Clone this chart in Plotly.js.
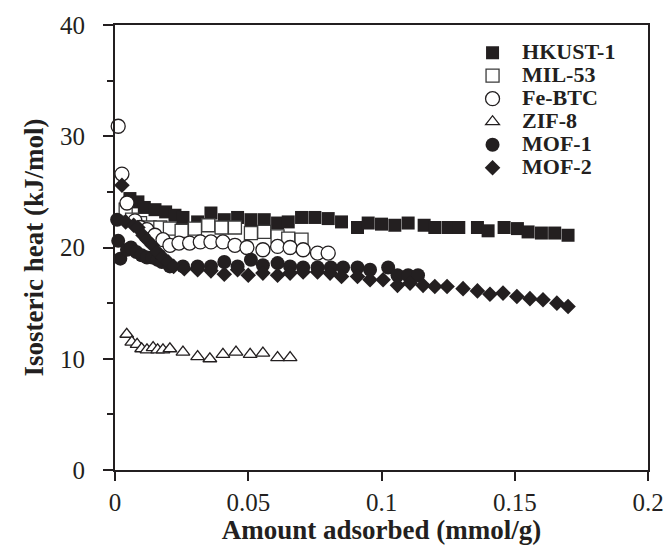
<!DOCTYPE html>
<html>
<head>
<meta charset="utf-8">
<script src="https://cdn.plot.ly/plotly-3.0.1.min.js"></script>
<style>html,body{margin:0;padding:0;background:#fff;}#chart{width:667px;height:545px;}</style>
</head>
<body>
<div id="chart"></div>
<script>
const seriesNames = ["HKUST-1", "MIL-53", "Fe-BTC", "ZIF-8", "MOF-1", "MOF-2"];

const hkustX = [0.0056,0.0086,0.011,0.015,0.019,0.0225,0.0255,0.031,0.036,0.041,0.046,0.051,0.056,0.061,0.065,0.070,0.075,0.080,0.085,0.091,0.095,0.100,0.105,0.110,0.116,0.120,0.125,0.129,0.136,0.140,0.146,0.151,0.155,0.160,0.165,0.170];
const hkustY = [24.4,24.1,23.6,23.4,23.2,22.9,22.7,22.3,23.1,22.5,22.7,22.5,22.5,22.2,22.3,22.7,22.7,22.6,22.3,21.8,22.2,22.1,22.0,22.2,22.0,21.8,21.8,21.8,21.8,21.5,21.8,21.7,21.4,21.3,21.3,21.1];

const milX = [0.004,0.0064,0.0094,0.013,0.017,0.0206,0.025,0.030,0.035,0.040,0.045,0.051,0.056,0.061,0.065,0.070];
const milY = [23.4,22.5,22.2,21.8,21.8,21.7,21.5,21.7,22.0,21.8,21.8,21.3,21.4,21.0,20.8,20.7];

const feX = [0.0012,0.0026,0.0045,0.0075,0.0094,0.012,0.015,0.018,0.0206,0.024,0.028,0.032,0.036,0.0405,0.045,0.0495,0.0555,0.061,0.0657,0.0706,0.076,0.080];
const feY = [30.9,26.6,24.0,22.4,21.8,21.6,21.1,20.7,20.2,20.4,20.4,20.5,20.5,20.5,20.2,20.0,19.8,20.1,20.0,19.8,19.5,19.5];

const zifX = [0.0044,0.0063,0.0083,0.010,0.012,0.0143,0.016,0.018,0.0206,0.0255,0.031,0.0356,0.0405,0.0454,0.0507,0.0555,0.061,0.0657];
const zifY = [12.2,11.5,11.3,10.9,10.8,11.0,10.8,10.8,10.9,10.6,10.2,10.0,10.4,10.6,10.4,10.5,10.1,10.1];

const mof1X = [0.0008,0.0012,0.002,0.0045,0.006,0.008,0.010,0.012,0.014,0.016,0.0176,0.0206,0.0255,0.031,0.036,0.041,0.046,0.051,0.0555,0.061,0.0657,0.0706,0.076,0.081,0.0856,0.091,0.0957,0.1025,0.106,0.110,0.1137];
const mof1Y = [22.5,20.6,19.0,19.8,20.0,19.6,19.3,19.1,19.1,18.9,18.7,18.3,18.3,18.3,18.3,18.7,18.3,18.9,18.4,18.6,18.3,18.2,18.2,18.2,18.2,18.2,18.0,18.2,17.5,17.5,17.5];

const mof2X = [0.0026,0.004,0.007,0.0086,0.0105,0.012,0.014,0.016,0.018,0.020,0.022,0.026,0.031,0.036,0.041,0.046,0.050,0.0555,0.061,0.0657,0.0706,0.076,0.0807,0.085,0.091,0.0957,0.1006,0.106,0.1107,0.1156,0.120,0.1246,0.1306,0.136,0.1407,0.1456,0.1508,0.1557,0.1606,0.1658,0.170];
const mof2Y = [25.6,22.3,22.0,21.8,21.1,20.7,20.2,19.6,19.1,18.7,18.3,18.1,18.0,17.9,17.6,18.0,17.5,17.7,17.5,17.7,17.8,17.8,17.7,17.4,17.4,17.1,17.1,16.6,16.8,16.6,16.5,16.5,16.3,16.1,15.8,15.9,15.6,15.4,15.3,15.0,14.7];

const xTickVals = [0, 0.05, 0.1, 0.15, 0.2];
const xTickText = ["0", "0.05", "0.1", "0.15", "0.2"];
const yTickVals = [0, 10, 20, 30, 40];
const yTickText = ["0", "10", "20", "30", "40"];

const ink = "#231f20";
function tr(name, x, y, symbol, size, open, lineColor) {
  return {
    type: "scatter", mode: "markers",
    name: '<span style="font-size:22px">' + name + '</span>',
    x: x, y: y, cliponaxis: false,
    marker: {
      symbol: symbol, size: size,
      color: open ? "#ffffff" : ink,
      line: {color: lineColor || ink, width: open ? 1.3 : 0}
    }
  };
}

const data = [
  tr(seriesNames[0], hkustX, hkustY, "square", 13, false),
  tr(seriesNames[1], milX, milY, "square", 13, true, "#3a3a3a"),
  tr(seriesNames[2], feX, feY, "circle", 14, true),
  tr(seriesNames[3], zifX, zifY, "triangle-up", 12, true),
  tr(seriesNames[4], mof1X, mof1Y, "circle", 14, false),
  tr(seriesNames[5], mof2X, mof2Y, "diamond", 12, false)
];

const axisCommon = {
  showline: true, mirror: true, linecolor: ink, linewidth: 2,
  ticks: "outside", tickcolor: ink, tickwidth: 2,
  showgrid: false, zeroline: false,
  tickfont: {family: "Liberation Serif", size: 25, color: ink}
};

const layout = {
  width: 667, height: 545,
  margin: {l: 115, r: 19, t: 25, b: 75},
  paper_bgcolor: "#ffffff", plot_bgcolor: "#ffffff",
  showlegend: true,
  legend: {
    x: 0.653, y: 0.975, xanchor: "left", yanchor: "top",
    bgcolor: "rgba(0,0,0,0)",
    font: {family: "Liberation Serif", size: 15.4, color: ink, weight: "bold"},
    itemwidth: 49
  },
  xaxis: Object.assign({}, axisCommon, {
    range: [0, 0.2], tickmode: "array", tickvals: xTickVals, ticktext: xTickText,
    ticklen: 9, ticklabelstandoff: 0,
    title: {text: "<b>Amount adsorbed (mmol/g)</b>", font: {family: "Liberation Serif", size: 27, color: ink}, standoff: 12}
  }),
  yaxis: Object.assign({}, axisCommon, {
    range: [0, 40], tickmode: "array", tickvals: yTickVals, ticktext: yTickText,
    ticklen: 10, ticklabelstandoff: 13,
    minor: {dtick: 5, ticks: "outside", ticklen: 6, tickwidth: 2, tickcolor: ink, showgrid: false},
    title: {text: "<b>Isosteric heat (kJ/mol)</b>", font: {family: "Liberation Serif", size: 27, color: ink}, standoff: 9}
  })
};

Plotly.newPlot("chart", data, layout, {displayModeBar: false, staticPlot: true});
</script>
</body>
</html>
